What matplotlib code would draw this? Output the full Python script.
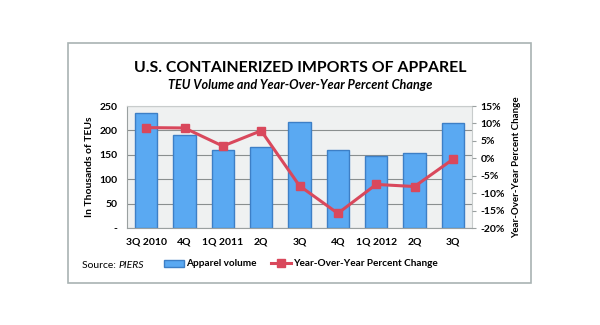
import matplotlib.pyplot as plt
from matplotlib.patches import Rectangle
from matplotlib.lines import Line2D
from matplotlib.patches import Patch

quarters = ["3Q 2010", "4Q", "1Q 2011", "2Q", "3Q", "4Q", "1Q 2012", "2Q", "3Q"]
volume = [235, 190, 160, 165, 217, 160, 148, 153, 215]
pct_change = [8.8, 8.7, 3.5, 7.9, -7.9, -15.8, -7.5, -8.1, -0.3]

plt.rcParams['font.family'] = ['Lato', 'DejaVu Sans']

W, H = 600, 325
fig = plt.figure(figsize=(6, 3.25), dpi=100)

# outer frame
fig.patches.append(Rectangle((68 / W, 1 - 283 / H), (531 - 68) / W, (283 - 43) / H,
                             transform=fig.transFigure, fill=False,
                             edgecolor="#a9b3b3", linewidth=1.2))

fig.text(0.5, 1 - 68 / H, "U.S. CONTAINERIZED IMPORTS OF APPAREL",
         ha="center", va="center", fontsize=11.4, fontweight="bold")
fig.text(0.5, 1 - 85 / H, "TEU Volume and Year-Over-Year Percent Change",
         ha="center", va="center", fontsize=9.1, fontweight="bold", style="italic")

ax = fig.add_axes([127 / W, 1 - 228 / H, (472 - 127) / W, (228 - 106) / H])
ax.set_facecolor("#eff1f1")
x = range(len(quarters))
ax.bar(x, volume, width=0.58, color="#5aa9f2", edgecolor="#3d7fc6", linewidth=1, zorder=2)
ax.set_ylim(0, 250)
ax.set_xlim(-0.5, len(quarters) - 0.5)
ax.set_yticks([0, 50, 100, 150, 200, 250])
ax.set_yticklabels(["-", "50", "100", "150", "200", "250"])
ax.yaxis.grid(True, color="#8a8f8f", linewidth=0.8, zorder=0)
ax.set_axisbelow(True)
ax.set_xticks(list(x))
ax.set_xticklabels(quarters)
ax.tick_params(axis="both", length=0, labelsize=7.5, pad=7)
for lab in ax.get_xticklabels() + ax.get_yticklabels():
    lab.set_fontweight("bold")
for s in ["top", "right"]:
    ax.spines[s].set_color("#c8cccc")
for s in ["left", "bottom"]:
    ax.spines[s].set_color("#9aa0a0")
ax.set_ylabel("In Thousands of TEUs", fontsize=7.5, fontweight="bold", labelpad=4)

ax2 = ax.twinx()
ax2.plot(list(x), pct_change, color="#d9485c", linewidth=2.2, marker="s",
         markersize=6, zorder=3)
ax2.set_ylim(-20, 15)
ax2.set_yticks(range(-20, 16, 5))
ax2.set_yticklabels([f"{v}%" for v in range(-20, 16, 5)])
ax2.tick_params(axis="y", length=3, color="#9aa0a0", labelsize=7.5, pad=3)
for lab in ax2.get_yticklabels():
    lab.set_fontweight("bold")
for s in ax2.spines.values():
    s.set_visible(False)
ax2.set_ylabel("Year-Over-Year Percent Change", fontsize=7, fontweight="bold", labelpad=5)

handles = [Patch(facecolor="#5aa9f2", edgecolor="#3d7fc6"),
           Line2D([], [], color="#d9485c", linewidth=2.2, marker="s", markersize=6)]
fig.legend(handles, ["Apparel volume", "Year-Over-Year Percent Change"],
           loc="center", bbox_to_anchor=(301 / W, 1 - 264 / H), ncol=2, frameon=False,
           prop={"size": 7.2, "weight": "bold"}, handlelength=2.0, handletextpad=0.2,
           columnspacing=1.4)

fig.text(82 / W, 1 - 266 / H, "Source: ", fontsize=7.5, va="center")
fig.text(118 / W, 1 - 266 / H, "PIERS", fontsize=7.5, va="center", style="italic")

fig.savefig("out.png", dpi=100)
